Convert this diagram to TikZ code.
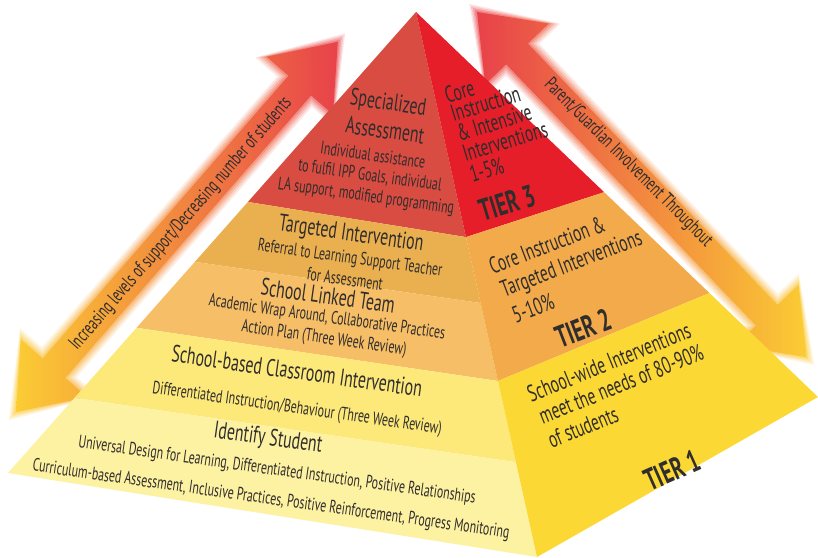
\documentclass[tikz,border=0pt]{standalone}
\usepackage{fontspec}
\setmainfont{PT Sans}[FakeStretch=0.66]
\usetikzlibrary{calc}
\definecolor{inkgray}{RGB}{48,45,45}
\definecolor{redleft}{RGB}{217,76,66}
\definecolor{redright}{RGB}{230,30,42}
\definecolor{tanband}{RGB}{234,176,80}
\definecolor{orangeband}{RGB}{246,190,102}
\definecolor{yellowband}{RGB}{252,233,122}
\definecolor{paleband}{RGB}{253,241,162}
\definecolor{orangeright}{RGB}{242,170,74}
\definecolor{yellowright}{RGB}{252,216,52}
\definecolor{arrowred}{RGB}{232,66,74}
\definecolor{arroworange}{RGB}{239,128,58}
\definecolor{arrowyellow}{RGB}{251,204,52}

\tikzset{
  headtxt/.style={text=inkgray, inner sep=0pt, font=\fontsize{24}{26}\selectfont},
  bodytxt/.style={text=inkgray, inner sep=0pt, font=\fontsize{18}{20}\selectfont},
  sidetxt/.style={text=inkgray, inner sep=0pt, font=\fontsize{23.5}{25}\selectfont},
  tiertxt/.style={text=inkgray, inner sep=0pt, font=\fontsize{31}{33}\selectfont\bfseries},
  arrowtxt/.style={text=inkgray, inner sep=0pt, font=\fontsize{19.5}{21}\selectfont},
}

% double headed arrow along local x, #1 = length, #2 = grow (for the soft edge)
\newcommand{\arrowpath}[2]{%
  (-1.4*#2,0) -- (58+#2,44+#2) -- (58+#2,15+#2) -- (#1-58-#2,15+#2) -- (#1-58-#2,44+#2)
  -- (#1+1.4*#2,0) -- (#1-58-#2,-44-#2) -- (#1-58-#2,-15-#2) -- (58+#2,-15-#2)
  -- (58+#2,-44-#2) -- cycle}

\begin{document}
\begin{tikzpicture}[x=1pt, y=-1pt]
    \useasboundingbox (0,0) rectangle (818,557);

    % Side arrows (soft edges)
    \foreach \grow/\op in {8/0.15,6/0.2,4/0.25,2/0.35,0/1}{
      \shade[shift={(16,412)}, rotate=49, left color=arrowyellow, middle color=arroworange,
        right color=arrowred, fill opacity=\op] \arrowpath{490.5}{\grow};
      \shade[shift={(477,12)}, rotate=-46.3, left color=arrowred, middle color=arroworange,
        right color=arrowyellow, fill opacity=\op] \arrowpath{477.4}{\grow};
    }
    \node[arrowtxt, rotate=49] (supportlbl) at (181,224) {Increasing levels of support/Decreasing number of students};
    \node[arrowtxt, rotate=-45] (parentlbl) at (628,163) {Parent/Guardian Involvement Throughout};

    % Pyramid corners
    \coordinate (apex) at (416,12);
    \coordinate (baseL) at (8,473);
    \coordinate (baseF) at (537,557);
    \coordinate (baseR) at (818,397);
    % band edges
    \coordinate (l1) at ($(apex)!0.412!(baseL)$);
    \coordinate (l2) at ($(apex)!0.542!(baseL)$);
    \coordinate (l3) at ($(apex)!0.685!(baseL)$);
    \coordinate (l4) at ($(apex)!0.837!(baseL)$);
    \coordinate (m1) at ($(apex)!0.413!(baseF)$);
    \coordinate (m2) at ($(apex)!0.534!(baseF)$);
    \coordinate (m3) at ($(apex)!0.677!(baseF)$);
    \coordinate (m4) at ($(apex)!0.826!(baseF)$);
    \coordinate (r1) at ($(apex)!0.468!(baseR)$);
    \coordinate (r2) at ($(apex)!0.730!(baseR)$);

    % Left face
    \fill[redleft] (apex) -- (l1) -- (m1) -- cycle;
    \fill[tanband] (l1) -- (l2) -- (m2) -- (m1) -- cycle;
    \fill[orangeband] (l2) -- (l3) -- (m3) -- (m2) -- cycle;
    \fill[yellowband] (l3) -- (l4) -- (m4) -- (m3) -- cycle;
    \fill[paleband] (l4) -- (baseL) -- (baseF) -- (m4) -- cycle;

    % Right face
    \fill[redright] (apex) -- (m1) -- (r1) -- cycle;
    \fill[orangeright] (m1) -- (m3) -- (r2) -- (r1) -- cycle;
    \fill[yellowright] (m3) -- (baseF) -- (baseR) -- (r2) -- cycle;

    % Left face texts
    \node[headtxt, rotate=-8] (spec1) at (388,104) {Specialized};
    \node[headtxt, rotate=-8] (spec2) at (385,130) {Assessment};
    \node[bodytxt, rotate=-8] (spec3) at (373,155) {Individual assistance};
    \node[bodytxt, rotate=-8] (spec4) at (370,176) {to fulfil IPP Goals, individual};
    \node[bodytxt, rotate=-8] (spec5) at (366,197) {LA support, modified programming};
    \node[headtxt, rotate=-8] (targ1) at (351,235) {Targeted Intervention};
    \node[bodytxt, rotate=-8] (targ2) at (350,259) {Referral to Learning Support Teacher};
    \node[bodytxt, rotate=-8] (targ3) at (345,279) {for Assessment};
    \node[headtxt, rotate=-8] (link1) at (328,296) {School Linked Team};
    \node[bodytxt, rotate=-8] (link2) at (327,318) {Academic Wrap Around, Collaborative Practices};
    \node[bodytxt, rotate=-8] (link3) at (324,339) {Action Plan (Three Week Review)};
    \node[headtxt, rotate=-8] (class1) at (297,371) {School-based Classroom Intervention};
    \node[bodytxt, rotate=-8] (class2) at (297,409) {Differentiated Instruction/Behaviour (Three Week Review)};
    \node[headtxt, rotate=-8] (ident1) at (268,439) {Identify Student};
    \node[bodytxt, rotate=-8] (ident2) at (277,471) {Universal Design for Learning, Differentiated Instruction, Positive Relationships};
    \node[bodytxt, rotate=-8] (ident3) at (271,500) {Curriculum-based Assessment, Inclusive Practices, Positive Reinforcement, Progress Monitoring};

    % Right face texts
    \node[sidetxt, rotate=17, anchor=west] (core1) at (445,96) {Core};
    \node[sidetxt, rotate=17, anchor=west] (core2) at (451,114) {Instruction};
    \node[sidetxt, rotate=17, anchor=west] (core3) at (457,134) {\& Intensive};
    \node[sidetxt, rotate=17, anchor=west] (core4) at (463,154) {Interventions};
    \node[sidetxt, rotate=17, anchor=west] (core5) at (470,175) {1-5\%};
    \node[tiertxt, rotate=17] (tier3) at (507,203) {TIER 3};
    \node[sidetxt, rotate=21] (targ4) at (547,245) {Core Instruction \&};
    \node[sidetxt, rotate=21] (targ5) at (572,265) {Targeted Interventions};
    \node[sidetxt, rotate=21] (targ6) at (533,308) {5-10\%};
    \node[tiertxt, rotate=21] (tier2) at (583,328) {TIER 2};
    \node[sidetxt, rotate=22] (wide1) at (609,362) {School-wide Interventions};
    \node[sidetxt, rotate=22] (wide2) at (621,384) {meet the needs of 80-90\%};
    \node[sidetxt, rotate=22] (wide3) at (583,427) {of students};
    \node[tiertxt, rotate=24] (tier1) at (672,470) {TIER 1};
\end{tikzpicture}
\end{document}
